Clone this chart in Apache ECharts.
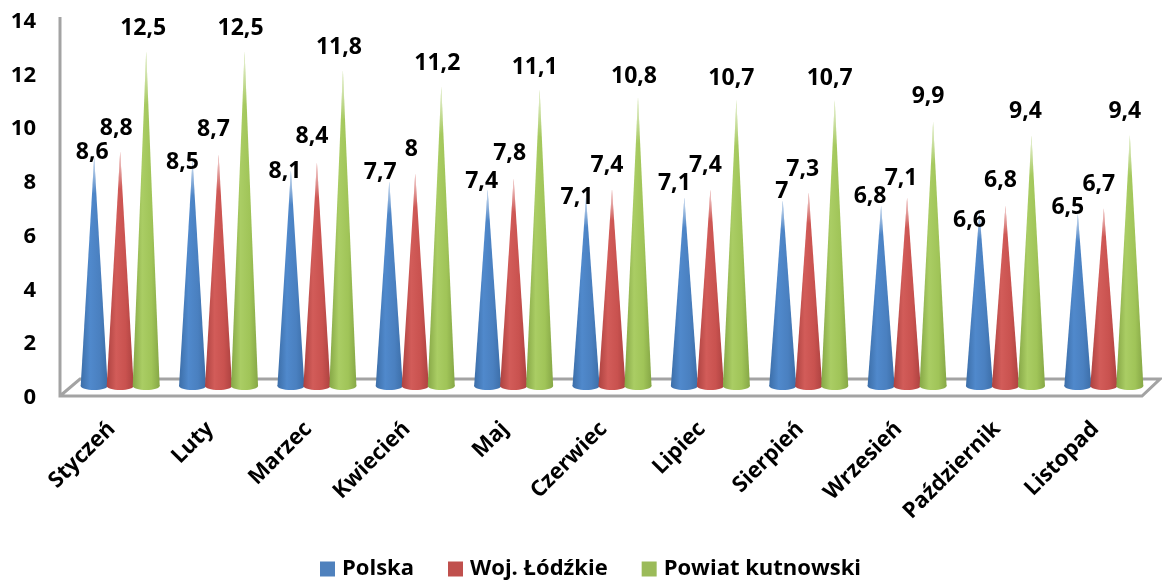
<!DOCTYPE html>
<html><head><meta charset="utf-8">
<style>html,body{margin:0;padding:0;background:#fff}#c{width:1162px;height:580px}</style>
<script src="https://cdn.jsdelivr.net/npm/echarts@6/dist/echarts.min.js"></script>
</head><body><div id="c"></div>
<script>
const categories = ['Styczeń','Luty','Marzec','Kwiecień','Maj','Czerwiec','Lipiec','Sierpień','Wrzesień','Październik','Listopad'];
const polska = [8.6,8.5,8.1,7.7,7.4,7.1,7.1,7,6.8,6.6,6.5];
const lodzkie = [8.8,8.7,8.4,8,7.8,7.4,7.4,7.3,7.1,6.8,6.7];
const kutnowski = [12.5,12.5,11.8,11.2,11.1,10.8,10.7,10.7,9.9,9.4,9.4];
const yTicks = {min:0,max:14,interval:2};
// hand-placed label nudges of the original chart, relative to each cone's tip
const nudgePolska = [[-2,-4],[-10,3],[-6,1],[-9,-9],[-6,-8],[-9,0],[-10,-14],[-1,-9],[-11,-9],[-10,9],[-10,-6]];
const nudgeLodzkie = [[-4,-23],[-5,-25],[-5,-26],[-4,-24],[-4,-25],[-5,-24],[-5,-24],[-6,-23],[-6,-19],[-5,-25],[-5,-24]];
const nudgeKutno = [[-3,-23],[-4,-23],[-4,-23],[-4,-23],[-5,-22],[-4,-21],[-5,-22],[-5,-22],[-5,-25],[-6,-24],[-5,-24]];

const FONT = '"Open Sans"';
const grad = (a,b,c)=>({type:'linear',x:0,y:0,x2:1,y2:0,colorStops:[{offset:0,color:a},{offset:.35,color:b},{offset:.7,color:c},{offset:1,color:a}]});
const tipFade = {type:'linear',x:0,y:0,x2:0,y2:1,colorStops:[{offset:0,color:'rgba(255,255,255,.8)'},{offset:.16,color:'rgba(255,255,255,0)'},{offset:1,color:'rgba(255,255,255,0)'}]};

function cone(name,values,nudges,shift,color,fill){
  return {
    name,type:'custom',xAxisIndex:1,yAxisIndex:1,z:3,
    itemStyle:{color},
    data:values.map((v,i)=>[i,v]),
    encode:{x:0,y:1},
    renderItem(params,api){
      const i=api.value(0), v=api.value(1);
      const tip=api.coord([i,v]), base=api.coord([i,0]);
      const cx=base[0]+shift, hw=13.5, ry=4, by=base[1]-ry;
      const n=nudges[i];
      return {type:'group',children:[
        {type:'polygon',shape:{points:[[cx,tip[1]],[cx+hw,by],[cx-hw,by]]},style:{fill}},
        {type:'ellipse',shape:{cx,cy:by,rx:hw,ry},style:{fill}},
        {type:'polygon',shape:{points:[[cx,tip[1]],[cx+hw,by],[cx-hw,by]]},style:{fill:tipFade}},
        {type:'text',x:cx+n[0],y:tip[1]+n[1],z2:10,style:{text:String(v).replace('.',','),fill:'#000',font:'bold 23px '+FONT,align:'center',verticalAlign:'middle'}}
      ]};
    }
  };
}

const chart=echarts.init(document.getElementById('c'));
chart.setOption({
  animation:false,
  backgroundColor:'#fff',
  grid:[
    {left:60,right:22,top:21.5,bottom:182},
    {left:71,right:9,top:10.6,bottom:190}
  ],
  xAxis:[
    {gridIndex:0,type:'category',show:false,data:categories},
    {gridIndex:1,type:'category',data:categories,
      axisLine:{show:false},axisTick:{show:false},
      axisLabel:{interval:0,rotate:45,margin:27,padding:[0,12,0,0],color:'#000',fontFamily:FONT,fontWeight:'bold',fontSize:22}}
  ],
  yAxis:[
    {gridIndex:0,type:'value',...yTicks,splitLine:{show:false},axisLine:{show:false},axisTick:{show:false},
      axisLabel:{margin:24,color:'#000',fontFamily:FONT,fontWeight:'bold',fontSize:22}},
    {gridIndex:1,type:'value',...yTicks,show:false,splitLine:{show:false}}
  ],
  legend:{left:315,top:553,icon:'rect',itemWidth:15,itemHeight:15,itemGap:34,selectedMode:false,
    textStyle:{color:'#000',fontFamily:FONT,fontWeight:'bold',fontSize:22,padding:[0,0,0,2]},
    data:['Polska','Woj. Łódźkie','Powiat kutnowski']},
  graphic:{elements:[
    {type:'polyline',z:1,shape:{points:[[60,17],[60,396],[1142,396],[1160,379],[80,379],[60,396]]},style:{stroke:'#a3a3a3',lineWidth:3,fill:null}}
  ]},
  series:[
    cone('Polska',polska,nudgePolska,-26,'#4f81bd',grad('#3c6ea8','#5089cc','#4a80c0')),
    cone('Woj. Łódźkie',lodzkie,nudgeLodzkie,0,'#c0504d',grad('#ad4240','#d25c59','#c9524f')),
    cone('Powiat kutnowski',kutnowski,nudgeKutno,26,'#9bbb59',grad('#86a746','#aacd64','#a0c458'))
  ]
});
</script></body></html>
